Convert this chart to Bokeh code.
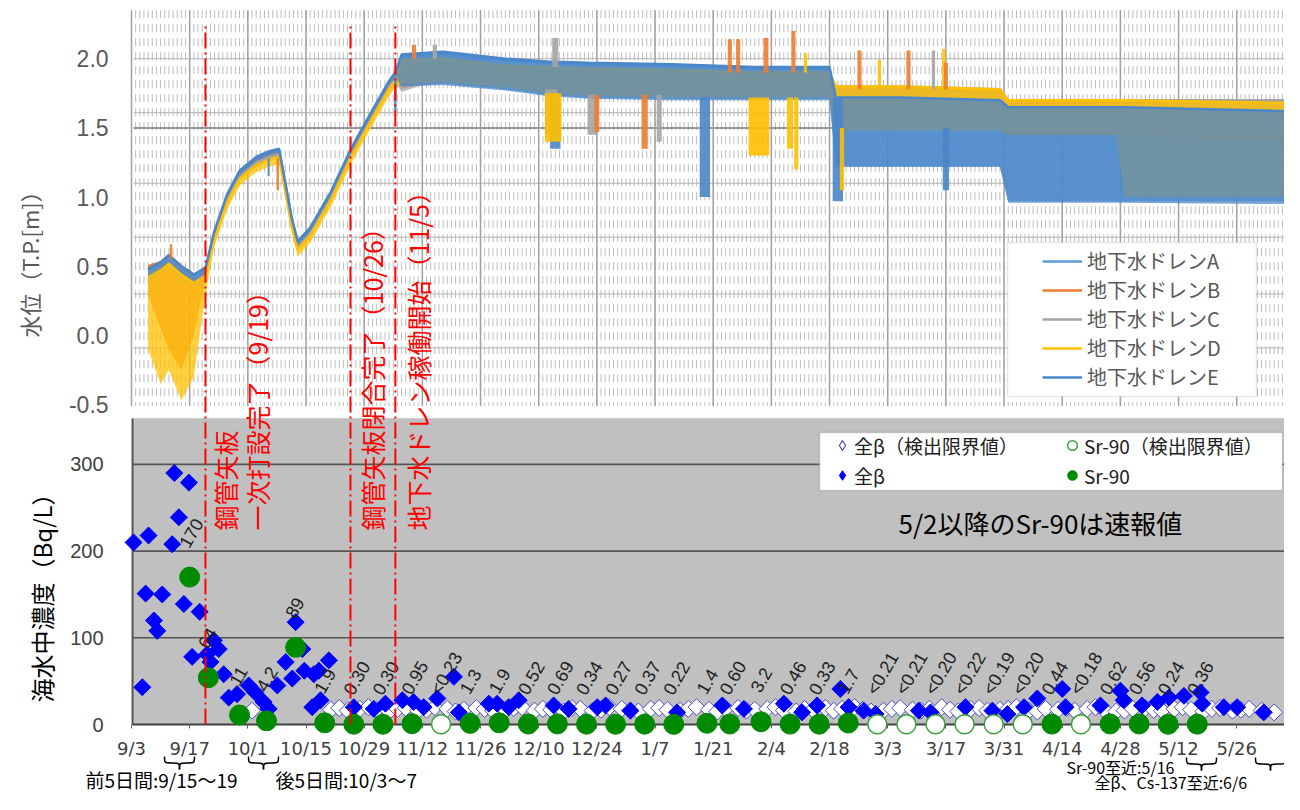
import numpy as np
from bokeh.plotting import figure
from bokeh.models import (Range1d, LinearAxis, FixedTicker, PrintfTickFormatter,
                          BoxAnnotation, Label, Legend, LegendItem)
from bokeh.core.properties import value
from bokeh.embed import file_html
from bokeh.resources import INLINE

# ---------------- data (x = days since 2015-09-03) ----------------
x_tick_days = [0, 14, 28, 42, 56, 70, 84, 98, 112, 126, 140, 154, 168, 182, 196, 210, 224, 238, 252, 266, 280]
x_tick_labels = ["9/3", "9/17", "10/1", "10/15", "10/29", "11/12", "11/26", "12/10", "12/24", "1/7", "1/21",
                 "2/4", "2/18", "3/3", "3/17", "3/31", "4/14", "4/28", "5/12", "5/26", "6/9"]
wl_ticks = [-0.5, 0.0, 0.5, 1.0, 1.5, 2.0]
conc_ticks = [0, 100, 200, 300]

# events (9/19, 10/26, 11/5) as drawn
event_day = [17.8, 52.7, 63.5]
event_text = ["鋼管矢板", "一次打設完了（9/19）", "鋼管矢板閉合完了（10/26）", "地下水ドレン稼働開始（11/5）"]
event_text_day = [17.8, 17.8, 52.7, 63.5]

# groundwater level envelopes (T.P. m)
wl_day = [4, 7, 9, 12, 15, 17.8, 20, 23, 26, 30, 33, 35.5, 36.5, 38.5, 40, 43, 48, 53, 58, 62, 63.5,
          65, 75, 90, 100, 110, 130, 150, 168, 169.5, 185, 209, 211, 237, 239, 278.5]
wlA_hi = [0.47, 0.52, 0.57, 0.49, 0.43, 0.48, 0.75, 1.01, 1.18, 1.28, 1.32, 1.34, 1.18, 0.85, 0.67, 0.77, 1.03, 1.35, 1.62, 1.83, 1.89,
          2.02, 2.04, 1.99, 1.97, 1.96, 1.95, 1.93, 1.93, 1.62, 1.62, 1.60, 1.55, 1.55, 1.55, 1.55]
wlA_lo = [0.42, 0.47, 0.52, 0.44, 0.38, 0.43, 0.72, 0.98, 1.15, 1.25, 1.29, 1.31, 1.15, 0.82, 0.64, 0.74, 1.00, 1.32, 1.59, 1.80, 1.86,
          1.80, 1.82, 1.78, 1.74, 1.72, 1.71, 1.71, 1.71, 1.22, 1.22, 1.22, 0.97, 0.97, 0.97, 0.97]
wlB_hi = [0.50, 0.53, 0.58, 0.50, 0.44, 0.48, 0.73, 0.99, 1.16, 1.26, 1.30, 1.32, 1.16, 0.83, 0.65, 0.75, 1.01, 1.33, 1.60, 1.81, 1.87,
          1.98, 2.00, 1.95, 1.93, 1.92, 1.91, 1.90, 1.90, 1.78, 1.78, 1.76, 1.68, 1.68, 1.68, 1.70]
wlB_lo = [0.30, 0.05, -0.10, -0.25, 0.00, 0.40, 0.69, 0.95, 1.12, 1.22, 1.26, 1.28, 1.12, 0.79, 0.61, 0.71, 0.97, 1.29, 1.56, 1.77, 1.83,
          1.78, 1.86, 1.82, 1.78, 1.76, 1.74, 1.74, 1.74, 1.50, 1.50, 1.50, 1.45, 1.45, 1.45, 1.40]
wlC_hi = [0.46, 0.51, 0.56, 0.48, 0.42, 0.47, 0.72, 0.98, 1.15, 1.25, 1.29, 1.31, 1.15, 0.82, 0.64, 0.74, 1.00, 1.32, 1.59, 1.80, 1.86,
          1.98, 1.99, 1.94, 1.92, 1.91, 1.90, 1.89, 1.89, 1.80, 1.80, 1.78, 1.70, 1.70, 1.70, 1.70]
wlC_lo = [0.40, 0.44, 0.48, 0.40, 0.36, 0.42, 0.69, 0.95, 1.12, 1.22, 1.26, 1.28, 1.12, 0.79, 0.61, 0.71, 0.97, 1.29, 1.56, 1.77, 1.83,
          1.76, 1.86, 1.82, 1.78, 1.76, 1.74, 1.74, 1.74, 1.52, 1.52, 1.52, 1.47, 1.47, 1.47, 1.45]
wlD_hi = [0.44, 0.48, 0.52, 0.44, 0.38, 0.44, 0.70, 0.96, 1.13, 1.23, 1.27, 1.29, 1.13, 0.80, 0.62, 0.72, 0.98, 1.30, 1.57, 1.78, 1.84,
          1.99, 2.00, 1.95, 1.94, 1.93, 1.92, 1.90, 1.90, 1.80, 1.80, 1.78, 1.70, 1.70, 1.70, 1.68]
wlD_lo = [-0.10, -0.35, -0.25, -0.47, -0.30, 0.30, 0.65, 0.91, 1.08, 1.18, 1.22, 1.24, 1.08, 0.75, 0.57, 0.67, 0.93, 1.25, 1.52, 1.73, 1.79,
          1.82, 1.83, 1.79, 1.75, 1.73, 1.72, 1.72, 1.72, 1.48, 1.48, 1.48, 1.45, 1.45, 1.00, 1.00]
wlE_hi = [0.48, 0.53, 0.58, 0.50, 0.44, 0.49, 0.76, 1.02, 1.19, 1.29, 1.33, 1.35, 1.19, 0.86, 0.68, 0.78, 1.04, 1.36, 1.63, 1.84, 1.90,
          2.03, 2.05, 2.00, 1.98, 1.97, 1.96, 1.94, 1.94, 1.72, 1.72, 1.70, 1.65, 1.65, 1.65, 1.62]
wlE_lo = [0.43, 0.48, 0.53, 0.45, 0.39, 0.44, 0.73, 0.99, 1.16, 1.26, 1.30, 1.32, 1.16, 0.83, 0.65, 0.75, 1.01, 1.33, 1.60, 1.81, 1.87,
          1.80, 1.81, 1.77, 1.73, 1.71, 1.70, 1.70, 1.70, 1.22, 1.22, 1.22, 0.96, 0.96, 0.96, 0.95]

# short excursions (spikes / dips) in the water level records
spike_series = ["C", "E", "D", "C", "B", "B", "C", "E", "D", "D", "D", "B", "B", "B", "B", "D",
                "C", "B", "D", "B", "C", "D", "B", "E", "D", "E", "B", "C", "E", "B", "E", "B"]
spike_day = [101, 102, 101.5, 111, 112, 123.5, 127, 138, 151, 158.5, 160, 144, 146, 152.7, 159.3, 162.2,
             102, 175.2, 180, 187, 193, 195.5, 196, 170, 171, 196, 68, 73, 63.5, 35.2, 33, 9.5]
spike_lo = [1.45, 1.35, 1.40, 1.45, 1.47, 1.35, 1.40, 1.00, 1.30, 1.35, 1.20, 1.90, 1.90, 1.90, 1.90, 1.90,
            1.94, 1.78, 1.78, 1.78, 1.78, 1.78, 1.78, 0.97, 1.05, 1.05, 2.00, 2.00, 1.62, 1.05, 1.15, 0.55]
spike_hi = [1.78, 1.74, 1.75, 1.74, 1.74, 1.74, 1.74, 1.72, 1.72, 1.72, 1.72, 2.14, 2.14, 2.15, 2.20, 2.04,
            2.15, 2.06, 1.99, 2.06, 2.06, 2.07, 1.97, 1.72, 1.50, 1.50, 2.10, 2.10, 1.86, 1.28, 1.28, 0.66]
spike_w = [3, 2.5, 4, 2.5, 1.2, 1.5, 1.2, 2.5, 5, 1.5, 1, 1, 1, 1.2, 1, 0.8,
           1.5, 1, 0.8, 1, 0.8, 0.8, 1, 2.5, 1, 1.5, 1, 1, 0.6, 0.6, 0.5, 0.6]

series_names = ["地下水ドレンA", "地下水ドレンB", "地下水ドレンC", "地下水ドレンD", "地下水ドレンE"]
series_keys = ["A", "B", "C", "D", "E"]
series_colors = ["#5b9bd5", "#ed7d31", "#a5a5a5", "#ffc000", "#4a86c8"]

# seawater concentration (Bq/L)
beta_day = [0.5, 4.1, 10.3, 13.8, 11.4, 9.8, 3.4, 7.4, 5.4, 6.2,
            2.6, 12.6, 16.4, 14.6, 18.2, 19.8, 21.0, 19.0, 22.2, 23.4,
            25.4, 28.2, 29.8, 31.8, 33.0, 35.1, 37.1, 38.7, 39.5, 41.1,
            41.6, 43.9, 45.1, 47.5, 43.5, 45.5, 53.5, 58.3, 61.1, 65.2,
            67.9, 70.3, 73.6, 77.6, 78.8, 86.0, 88.0, 90.8, 93.2, 101.6,
            105.2, 112.1, 114.1, 120.1, 131.3, 142.2, 147.4, 157.0, 161.4, 165.0,
            170.6, 172.6, 176.2, 179.1, 189.5, 192.3, 200.7, 207.2, 210.8, 214.8,
            218.0, 224.0, 224.8, 233.2, 238.0, 238.8, 243.2, 246.9, 249.7, 253.3,
            257.3, 257.7, 262.9, 266.1, 272.5]
beta_val = [210, 218, 290, 279, 239, 208, 151, 150, 120, 108,
            43, 139, 130, 78, 81, 97, 87, 72, 58, 31,
            35, 45, 37, 26, 18, 45, 72, 53, 118, 87,
            62, 58, 62, 74, 20, 28, 20, 18, 24, 28,
            26, 20, 30, 55, 14, 24, 24, 20, 28, 22,
            18, 20, 22, 16, 14, 22, 18, 24, 14, 22,
            41, 20, 16, 12, 16, 14, 20, 16, 12, 20,
            30, 41, 20, 22, 39, 28, 22, 26, 31, 33,
            37, 24, 20, 20, 14]
beta_nd_day = [29, 33, 48, 50, 52, 55, 57, 59, 62, 64,
               66, 69, 71, 73, 76, 78, 80, 83, 85, 87,
               90, 92, 94, 97, 99, 101, 104, 106, 108, 111,
               113, 115, 118, 120, 122, 125, 127, 129, 132, 134,
               136, 139, 141, 143, 146, 148, 150, 153, 155, 157,
               160, 162, 164, 167, 169, 171, 174, 176, 178, 181,
               183, 185, 188, 190, 192, 195, 197, 199, 202, 204,
               206, 209, 211, 213, 216, 218, 220, 223, 225, 227,
               230, 232, 234, 237, 239, 241, 244, 246, 248, 251,
               253, 255, 258, 260, 262, 265, 267, 269, 272, 275]
beta_nd_val = [16, 18, 17, 19, 16, 18, 20, 17, 15, 18,
               19, 16, 17, 20, 18, 15, 17, 19, 18, 16,
               17, 19, 20, 16, 18, 17, 15, 19, 18, 16,
               17, 20, 18, 16, 15, 18, 19, 17, 16, 18,
               20, 17, 15, 18, 19, 16, 17, 18, 20, 16,
               15, 18, 17, 19, 16, 18, 20, 17, 15, 16,
               18, 19, 17, 16, 18, 20, 17, 15, 18, 19,
               16, 17, 18, 20, 16, 15, 18, 17, 19, 16,
               18, 20, 17, 15, 16, 18, 19, 17, 16, 18,
               20, 17, 15, 18, 19, 16, 17, 18, 16, 14]
sr_day = [14, 18.5, 26, 32.5, 39.5, 46.5, 53.5, 60.5, 67.5, 74.5, 81.5, 88.5, 95.5, 102.5, 109.5, 116.5, 123.5, 130.5,
          138.5, 144, 151.5, 158.5, 165.5, 172.5, 179.5, 186.5, 193.5, 200.5, 207.5, 214.5, 221.5, 228.5, 235.5, 242.5,
          249.5, 256.5]
sr_val = [170, 54, 11, 4.2, 89, 1.9, 0.30, 0.30, 0.95, 0.23, 1.3, 1.9, 0.52, 0.69, 0.34, 0.27, 0.37, 0.22,
          1.4, 0.60, 3.2, 0.46, 0.33, 1.7, 0.21, 0.21, 0.20, 0.22, 0.19, 0.20, 0.44, 0.18, 0.62, 0.56,
          0.24, 0.36]
sr_nd = [0, 0, 0, 0, 0, 0, 0, 0, 0, 1, 0, 0, 0, 0, 0, 0, 0, 0,
         0, 0, 0, 0, 0, 0, 1, 1, 1, 1, 1, 1, 0, 1, 0, 0, 0, 0]
sr_text = ["170", "64", "11", "4.2", "89", "1.9", "0.30", "0.30", "0.95", "<0.23", "1.3", "1.9", "0.52", "0.69",
           "0.34", "0.27", "0.37", "0.22", "1.4", "0.60", "3.2", "0.46", "0.33", "1.7", "<0.21", "<0.21", "<0.20",
           "<0.22", "<0.19", "<0.20", "0.44", "<0.18", "0.62", "0.56", "0.24", "0.36"]

# ---------------- layout calibration (pixel positions of the picture) ----------------
W, H = 1284, 794
DAY0_PX, PX_DAY = 131.0, 4.155
C0_PX, PX_C = 724.0, 0.867
WL0_PX, PX_WL = 335.0, 138.4


def sy(iy):  # picture y (from top) -> screen units (from bottom)
    return H - iy


def dx(ix):  # picture x -> day
    return (ix - DAY0_PX) / PX_DAY


def dyc(iy):  # picture y -> concentration units
    return (C0_PX - iy) / PX_C


TOP_L, TOP_R, TOP_B, TOP_T = 0.5, 279.0, -0.51, 2.35
BOT_L, BOT_R, BOT_T = 0.25, 281.0, 353.0
EVENT_TOP = 808.0

p = figure(width=W, height=H,
           x_range=Range1d(dx(0), dx(W)), y_range=Range1d(dyc(H), dyc(0)),
           x_axis_location=None, y_axis_location=None, toolbar_location=None,
           output_backend="svg", min_border=0, outline_line_color=None,
           background_fill_color="white", border_fill_color="white")
p.extra_y_ranges = {"wl": Range1d((WL0_PX - H) / PX_WL, WL0_PX / PX_WL)}
p.grid.visible = False

# ---- top panel grid ----
daily = np.arange(1, 279)
p.segment(x0=daily, y0=TOP_T, x1=daily, y1=TOP_B, y_range_name="wl",
          line_color="#bdbdbd", line_width=1, line_dash="8 6")
for h in [2.0, 1.61, 1.10, 0.71, 0.30, -0.09]:
    p.segment(x0=TOP_L, y0=h, x1=TOP_R, y1=h, y_range_name="wl", line_color="#b5b5b5", line_width=1)
p.segment(x0=TOP_L, y0=1.5, x1=TOP_R, y1=1.5, y_range_name="wl", line_color="#7a7a7a", line_width=1.5)
p.segment(x0=x_tick_days, y0=TOP_B, x1=x_tick_days, y1=TOP_T, y_range_name="wl",
          line_color="#a0a0a0", line_width=1.5)

# ---- water level series ----
wl_hi = {"A": wlA_hi, "B": wlB_hi, "C": wlC_hi, "D": wlD_hi, "E": wlE_hi}
wl_lo = {"A": wlA_lo, "B": wlB_lo, "C": wlC_lo, "D": wlD_lo, "E": wlE_lo}
color_of = dict(zip(series_keys, series_colors))
line_renderers = []
for key, color in zip(series_keys, series_colors):
    p.varea(x=wl_day, y1=wl_lo[key], y2=wl_hi[key], fill_color=color, fill_alpha=0.75, y_range_name="wl")
    r = p.line(x=wl_day, y=wl_hi[key], line_color=color, line_width=2.5, y_range_name="wl")
    line_renderers.append(r)
p.vbar(x=spike_day, width=spike_w, bottom=spike_lo, top=spike_hi,
       fill_color=[color_of[s] for s in spike_series], line_color=None, fill_alpha=0.9, y_range_name="wl")

# ---- bottom panel ----
p.add_layout(BoxAnnotation(left=BOT_L, right=BOT_R, bottom=0, top=BOT_T, fill_color="#c0c0c0", fill_alpha=1,
                           line_color="#9a9a9a", line_width=1, level="underlay"))
p.segment(x0=BOT_L, x1=BOT_R, y0=conc_ticks[1:], y1=conc_ticks[1:], line_color="#555555", line_width=1.6)
p.segment(x0=BOT_L, x1=BOT_L, y0=0, y1=BOT_T, line_color="#555555", line_width=2)
p.segment(x0=BOT_L, x1=BOT_R, y0=0, y1=0, line_color="#404040", line_width=2)

r_bnd = p.scatter(x=beta_nd_day, y=beta_nd_val, marker="square", angle=np.pi / 4, size=12,
                  fill_color="white", line_color="#4a4ac8", line_width=1)
r_b = p.scatter(x=beta_day, y=beta_val, marker="square", angle=np.pi / 4, size=12,
                fill_color="#0000ff", line_color="#0000ff")
nd_x = [d for d, f in zip(sr_day, sr_nd) if f]
nd_y = [v for v, f in zip(sr_val, sr_nd) if f]
ok_x = [d for d, f in zip(sr_day, sr_nd) if not f]
ok_y = [v for v, f in zip(sr_val, sr_nd) if not f]
r_snd = p.scatter(x=nd_x, y=nd_y, marker="circle", size=19, fill_color="white",
                  line_color="#3aa03a", line_width=1.5)
r_s = p.scatter(x=ok_x, y=ok_y, marker="circle", size=20, fill_color="#008a00", line_color="#008a00")
p.text(x=sr_day, y=sr_val, text=sr_text, angle=60, angle_units="deg", text_align="left",
       text_baseline="alphabetic", x_offset=-6, y_offset=-31, text_font=value("Liberation Sans"),
       text_font_size="18px", text_color="#202020")

# legend-only diamond keys (one point each, placed off the visible area)
lg_bnd = p.scatter(x=[dx(-500)], y=[dyc(-500)], marker="diamond", size=10, fill_color="white",
                   line_color="#4a4ac8", line_width=1.2)
lg_b = p.scatter(x=[dx(-500)], y=[dyc(-500)], marker="diamond", size=10, fill_color="#0000ff",
                 line_color="#0000ff")

# ---- event lines ----
p.segment(x0=event_day, x1=event_day, y0=0, y1=EVENT_TOP, line_color="#ff0000", line_width=2,
          line_dash="16 4 2 4")
for d, off, t in zip(event_text_day, [20, 52, 22, 23], event_text):
    p.add_layout(Label(x=d, y=sy(530), x_units="data", y_units="screen", x_offset=off, text=t,
                       angle=90, angle_units="deg", text_align="left", text_baseline="middle",
                       text_color="#ff0000", text_font="Noto Sans CJK JP", text_font_size="25px"))

# ---- braces under the date axis ----
br_cx = [179, 263, 1201, 1270]
br_top = [756, 756, 757, 757]
br_w, br_h = 30, 13
bx0, by0, bx1, by1, bcx0, bcy0, bcx1, bcy1 = [], [], [], [], [], [], [], []
for c, t in zip(br_cx, br_top):
    L, R, M, B = c - br_w / 2, c + br_w / 2, t + br_h / 2, t + br_h
    for (sx0, sy0, sx1, sy1, kx, ky) in [(L, t, L + br_w / 4, M, L, M), (L + br_w / 4, M, c, B, c, M),
                                        (c, B, R - br_w / 4, M, c, M), (R - br_w / 4, M, R, t, R, M)]:
        bx0.append(dx(sx0)); by0.append(dyc(sy0)); bx1.append(dx(sx1)); by1.append(dyc(sy1))
        bcx0.append(dx(kx)); bcy0.append(dyc(ky)); bcx1.append(dx(kx)); bcy1.append(dyc(ky))
p.bezier(x0=bx0, y0=by0, x1=bx1, y1=by1, cx0=bcx0, cy0=bcy0, cx1=bcx1, cy1=bcy1,
         line_color="#000000", line_width=1.5)

# ---- axes ----
ax_wl = LinearAxis(y_range_name="wl", fixed_location=TOP_L,
                   ticker=FixedTicker(ticks=wl_ticks, minor_ticks=[]),
                   formatter=PrintfTickFormatter(format="%.1f"),
                   axis_line_color=None, major_tick_line_color=None, minor_tick_line_color=None,
                   major_tick_out=0, major_tick_in=0, major_label_standoff=25,
                   major_label_text_font="Liberation Sans", major_label_text_font_size="23px",
                   major_label_text_color="#595959")
p.add_layout(ax_wl, "left")
ax_c = LinearAxis(fixed_location=BOT_L, ticker=FixedTicker(ticks=conc_ticks, minor_ticks=[]),
                  axis_line_color=None, major_tick_line_color=None, minor_tick_line_color=None,
                  major_tick_out=0, major_tick_in=0, major_label_standoff=29,
                  major_label_text_font="Liberation Sans", major_label_text_font_size="20px",
                  major_label_text_color="#404040")
p.add_layout(ax_c, "left")
ax_x = LinearAxis(fixed_location=0, ticker=FixedTicker(ticks=x_tick_days, minor_ticks=[]),
                  major_label_overrides={d: s for d, s in zip(x_tick_days, x_tick_labels)},
                  axis_line_color=None, major_tick_line_color="#606060", major_tick_out=4, major_tick_in=0,
                  minor_tick_line_color=None, major_label_standoff=9,
                  major_label_text_font="DejaVu Sans", major_label_text_font_size="18px",
                  major_label_text_color="#404040")
p.add_layout(ax_x, "below")

# axis titles
p.add_layout(Label(x=28, y=sy(337), x_units="screen", y_units="screen", text="水位（T.P.[m]）",
                   angle=90, angle_units="deg", text_align="left", text_baseline="middle",
                   text_font="Noto Sans CJK JP", text_font_size="22px", text_color="#595959"))
p.add_layout(Label(x=41, y=sy(702), x_units="screen", y_units="screen", text="海水中濃度（Bq/L）",
                   angle=90, angle_units="deg", text_align="left", text_baseline="middle",
                   text_font="Noto Sans CJK JP", text_font_size="24px", text_color="#000000"))

# ---- legends ----
p.add_layout(BoxAnnotation(left=1007, right=1256, top=sy(242), bottom=sy(396),
                           left_units="screen", right_units="screen", top_units="screen", bottom_units="screen",
                           fill_color="white", fill_alpha=1, line_color="#b0b0b0", line_width=1.5))
leg_top = Legend(items=[LegendItem(label=n, renderers=[r]) for n, r in zip(series_names, line_renderers)],
                 location=(1042, sy(391)), glyph_width=40, glyph_height=20, label_height=29,
                 label_standoff=5, spacing=0, padding=0, margin=0, border_line_color=None,
                 background_fill_alpha=0, label_text_font="Noto Sans CJK JP", label_text_font_size="20px",
                 label_text_color="#595959")
p.add_layout(leg_top)

p.add_layout(BoxAnnotation(left=819, right=1282, top=sy(432), bottom=sy(490),
                           left_units="screen", right_units="screen", top_units="screen", bottom_units="screen",
                           fill_color="white", fill_alpha=1, line_color="#707070", line_width=1.5))
leg_kw = dict(glyph_width=24, glyph_height=28, label_height=28, label_standoff=0, spacing=2, padding=0, margin=0,
              border_line_color=None, background_fill_alpha=0, label_text_font="Noto Sans CJK JP",
              label_text_font_size="19px", label_text_color="#202020")
p.add_layout(Legend(items=[LegendItem(label="全β（検出限界値）", renderers=[lg_bnd]),
                           LegendItem(label="全β", renderers=[lg_b])],
                    location=(830, sy(489)), **leg_kw))
p.add_layout(Legend(items=[LegendItem(label="Sr-90（検出限界値）", renderers=[r_snd]),
                           LegendItem(label="Sr-90", renderers=[r_s])],
                    location=(1060, sy(489)), **leg_kw))

# ---- notes ----
p.add_layout(Label(x=898, y=sy(522), x_units="screen", y_units="screen", text="5/2以降のSr-90は速報値",
                   text_baseline="middle", text_font="Noto Sans CJK JP", text_font_size="26px",
                   text_color="#000000"))
for tx, ix, iy, fs in [("前5日間:9/15～19", 85, 779, "19px"), ("後5日間:10/3～7", 275, 779, "19px"),
                       ("Sr-90至近:5/16", 1066, 766, "16px"), ("全β、Cs-137至近:6/6", 1094, 781, "16px")]:
    p.add_layout(Label(x=ix, y=sy(iy), x_units="screen", y_units="screen", text=tx,
                       text_baseline="middle", text_font="Noto Sans CJK JP", text_font_size=fs,
                       text_color="#000000"))

open("out.html", "w").write(file_html(p, INLINE))
